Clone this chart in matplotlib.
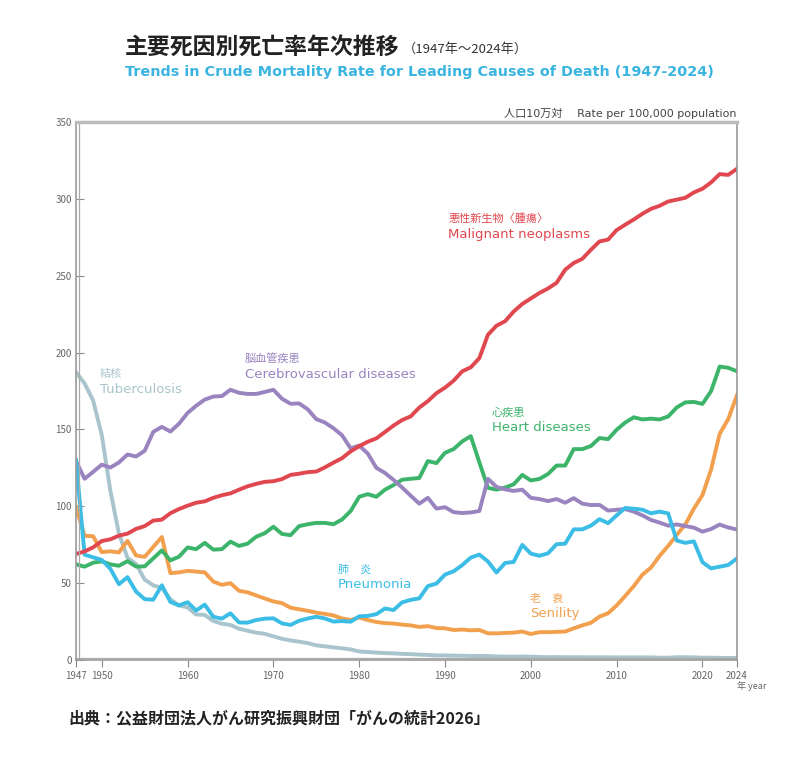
import numpy as np
import matplotlib
matplotlib.use('Agg')
import matplotlib.pyplot as plt

plt.rcParams['font.family'] = ['Noto Sans CJK JP', 'DejaVu Sans']

# ================= Data (rate per 100,000 population) =================
years = list(range(1947, 2025))

cancer = [69.0, 70.6, 73.3, 77.4, 78.5, 80.9, 82.2, 85.3, 87.1, 90.7,
          91.3, 95.5, 98.2, 100.4, 102.3, 103.2, 105.5, 107.2, 108.4, 110.8,
          113.0, 114.6, 115.9, 116.3, 117.7, 120.4, 121.2, 122.2, 122.6, 125.3,
          128.4, 131.3, 135.7, 139.1, 142.0, 144.2, 148.3, 152.5, 156.1, 158.5,
          164.2, 168.4, 173.6, 177.2, 181.7, 187.8, 190.4, 196.4, 211.6, 217.5,
          220.4, 226.7, 231.6, 235.2, 238.8, 241.7, 245.4, 253.9, 258.3, 261.0,
          266.9, 272.3, 273.5, 279.7, 283.2, 286.6, 290.3, 293.5, 295.5, 298.3,
          299.5, 300.7, 304.2, 306.6, 310.7, 316.1, 315.6, 319.5]

heart = [62.2, 60.7, 63.3, 64.2, 62.2, 61.3, 64.3, 60.8, 60.9, 66.1,
         71.3, 64.8, 67.2, 73.2, 72.1, 76.2, 71.8, 72.1, 77.0, 74.2,
         75.7, 80.2, 82.5, 86.7, 82.0, 81.2, 87.1, 88.3, 89.2, 89.2,
         88.3, 91.4, 96.9, 106.2, 107.9, 106.2, 110.8, 113.8, 117.3, 117.9,
         118.4, 129.4, 128.1, 134.8, 137.2, 142.2, 145.6, 128.6, 112.0, 110.8,
         112.2, 114.3, 120.4, 116.8, 117.8, 121.0, 126.5, 126.5, 137.2, 137.2,
         139.2, 144.4, 143.7, 149.8, 154.5, 157.9, 156.5, 157.0, 156.5, 158.4,
         164.3, 167.6, 167.9, 166.6, 174.9, 190.9, 190.1, 187.9]

cerebro = [129.4, 117.9, 122.4, 127.1, 125.2, 128.5, 133.7, 132.4, 136.1, 148.4,
           151.7, 148.6, 153.7, 160.7, 165.4, 169.4, 171.4, 171.7, 175.8, 173.8,
           173.1, 173.1, 174.4, 175.8, 170.0, 166.7, 166.9, 163.1, 156.7, 154.5,
           150.8, 146.2, 137.7, 139.5, 134.3, 125.0, 121.7, 117.2, 112.2, 106.9,
           101.7, 105.5, 98.5, 99.4, 96.2, 95.6, 96.0, 96.9, 117.9, 112.6,
           111.0, 110.0, 110.8, 105.5, 104.7, 103.4, 104.7, 102.3, 105.3, 101.7,
           100.8, 100.9, 97.2, 97.7, 98.2, 96.5, 94.1, 91.1, 89.4, 87.4,
           88.2, 87.1, 86.1, 83.5, 85.2, 88.1, 86.2, 84.9]

pneumonia = [130.1, 68.5, 66.8, 65.1, 59.4, 49.3, 53.9, 44.5, 39.6, 39.2,
             48.6, 37.8, 35.5, 37.6, 32.2, 36.0, 28.1, 26.9, 30.4, 24.4,
             24.3, 26.0, 26.9, 27.1, 23.8, 22.8, 25.5, 27.0, 28.1, 27.0,
             25.0, 25.3, 24.9, 28.4, 28.7, 29.8, 33.5, 32.5, 37.5, 39.1,
             40.1, 48.1, 49.7, 55.6, 57.7, 61.7, 66.6, 68.6, 64.1, 56.9,
             63.1, 63.8, 74.9, 69.2, 67.8, 69.4, 75.3, 75.7, 85.0, 85.0,
             87.4, 91.6, 89.0, 94.1, 98.9, 98.4, 97.8, 95.4, 96.5, 95.4,
             77.7, 76.2, 77.2, 63.6, 59.6, 60.7, 61.8, 66.0]

senility = [99.5, 80.8, 80.5, 70.2, 70.7, 70.0, 77.5, 68.0, 67.1, 73.5,
            80.0, 56.5, 57.0, 58.0, 57.5, 57.0, 51.0, 48.9, 50.0, 45.0,
            44.0, 42.0, 40.0, 38.1, 37.0, 34.0, 33.0, 32.0, 30.8, 30.0,
            29.0, 27.0, 26.0, 27.6, 26.0, 24.7, 24.0, 23.7, 23.0, 22.5,
            21.5, 22.0, 20.8, 20.6, 19.5, 19.8, 19.3, 19.5, 17.4, 17.3,
            17.6, 17.8, 18.5, 16.9, 18.1, 18.1, 18.3, 18.5, 20.6, 22.5,
            24.2, 28.2, 30.4, 35.5, 41.7, 48.1, 55.5, 60.1, 67.7, 74.2,
            81.3, 88.2, 98.5, 107.3, 123.8, 147.1, 156.7, 172.0]

tuberculosis = [187.2, 179.9, 168.8, 146.4, 110.3, 82.2, 66.5, 62.4, 52.3, 48.6,
                46.9, 39.5, 35.5, 34.2, 29.6, 29.3, 25.4, 23.6, 22.8, 20.3,
                19.0, 17.8, 17.0, 15.4, 13.8, 12.7, 11.9, 11.0, 9.5, 8.9,
                8.2, 7.6, 6.9, 5.5, 5.2, 4.8, 4.5, 4.3, 4.0, 3.8,
                3.5, 3.3, 3.0, 3.0, 2.8, 2.8, 2.6, 2.6, 2.6, 2.3,
                2.2, 2.2, 2.3, 2.1, 2.0, 1.8, 1.9, 1.8, 1.8, 1.8,
                1.7, 1.8, 1.7, 1.7, 1.7, 1.7, 1.7, 1.7, 1.5, 1.5,
                1.8, 1.8, 1.7, 1.5, 1.5, 1.4, 1.3, 1.3]

x_ticks = [1947, 1950, 1960, 1970, 1980, 1990, 2000, 2010, 2020, 2024]
y_ticks = [0, 50, 100, 150, 200, 250, 300, 350]

# ================= Figure =================
fig = plt.figure(figsize=(8.0, 7.66), dpi=100)
ax = fig.add_axes([0.095, 0.1384, 0.826, 0.7023])

c_cancer = '#e0474f'
c_heart = '#3cb46a'
c_cerebro = '#9a84c0'
c_pneu = '#3bbde6'
c_sen = '#f2a04e'
c_tb = '#a8c4cc'

lw = 2.8
ax.plot(years, tuberculosis, color=c_tb, lw=lw, solid_joinstyle='round')
ax.plot(years, senility, color=c_sen, lw=lw, solid_joinstyle='round')
ax.plot(years, heart, color=c_heart, lw=lw, solid_joinstyle='round')
ax.plot(years, cerebro, color=c_cerebro, lw=lw, solid_joinstyle='round')
ax.plot(years, pneumonia, color=c_pneu, lw=lw, solid_joinstyle='round')
ax.plot(years, cancer, color=c_cancer, lw=lw, solid_joinstyle='round')

ax.set_xlim(1947, 2024)
ax.set_ylim(0, 350)
ax.set_xticks(x_ticks)
ax.set_yticks(y_ticks)
ax.tick_params(axis='x', direction='out', length=5, color='#888888',
               labelsize=7, labelcolor='#666666', pad=3)
ax.tick_params(axis='y', direction='in', length=6, color='#888888',
               labelsize=7, labelcolor='#666666', pad=3)

for s in ['left', 'bottom', 'right']:
    ax.spines[s].set_color('#999999')
    ax.spines[s].set_linewidth(1.2)
ax.spines['top'].set_color('#bbbbbb')
ax.spines['top'].set_linewidth(2.5)
# double line on left and bottom
ax.axvline(1947.35, color='#aaaaaa', lw=0.9)
ax.axhline(1.4, color='#aaaaaa', lw=0.9)

# ================= Texts =================
fig.text(0.156, 0.938, '主要死因別死亡率年次推移', fontsize=16.5, fontweight='bold',
         color='#222222', va='center')
fig.text(0.503, 0.936, '（1947年～2024年）', fontsize=9.5, color='#333333', va='center')
fig.text(0.156, 0.906, 'Trends in Crude Mortality Rate for Leading Causes of Death (1947-2024)',
         fontsize=10.4, fontweight='bold', color='#3ab4e0', va='center',
         family=['DejaVu Sans'])
fig.text(0.921, 0.852, '人口10万対　 Rate per 100,000 population', fontsize=8,
         color='#444444', ha='right', va='center',
         family=['DejaVu Sans', 'Noto Sans CJK JP'])
fig.text(0.086, 0.062, '出典：公益財団法人がん研究振興財団「がんの統計2026」', fontsize=11.5,
         fontweight='bold', color='#222222', va='center')
ax.text(2024, -14, '年 year', fontsize=6.5, color='#666666', ha='left', va='top',
        clip_on=False)

labels = [
    (1990.4, 287, '悪性新生物〈腫瘍〉', 'Malignant neoplasms', c_cancer),
    (1966.7, 196, '脳血管疾患', 'Cerebrovascular diseases', c_cerebro),
    (1949.8, 186, '結核', 'Tuberculosis', c_tb),
    (1995.5, 161, '心疾患', 'Heart diseases', c_heart),
    (1977.5, 59, '肺　炎', 'Pneumonia', c_pneu),
    (1999.9, 40, '老　衰', 'Senility', c_sen),
]
for lx, ly, jp, en, col in labels:
    ax.text(lx, ly, jp, fontsize=8, color=col, va='center')
    ax.text(lx, ly - 10, en, fontsize=9.5, color=col, va='center',
            family=['DejaVu Sans'])

fig.savefig('out.png', dpi=100, facecolor='white')
